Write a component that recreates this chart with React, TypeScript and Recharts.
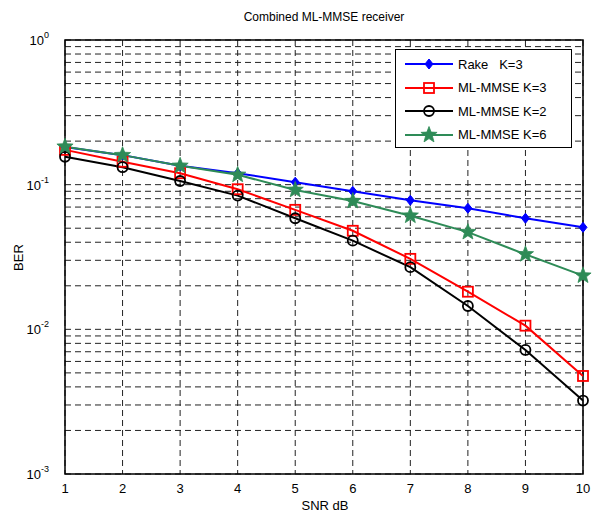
import React from "react";
import { CartesianGrid, Line, LineChart, ReferenceArea, XAxis, YAxis } from "recharts";

const snr = [1, 2, 3, 4, 5, 6, 7, 8, 9, 10];
const rakeK3 = [0.182, 0.16, 0.135, 0.12, 0.104, 0.09, 0.078, 0.0687, 0.0586, 0.0507];
const mlmmseK3 = [0.174, 0.144, 0.12, 0.093, 0.067, 0.048, 0.0307, 0.0182, 0.0106, 0.00476];
const mlmmseK2 = [0.156, 0.132, 0.106, 0.084, 0.0586, 0.041, 0.0269, 0.0145, 0.0072, 0.00322];
const mlmmseK6 = [0.183, 0.16, 0.135, 0.117, 0.092, 0.077, 0.061, 0.047, 0.033, 0.0235];

const decades = [0.001, 0.01, 0.1];
const yTicks = [...decades.flatMap((d) => [1, 2, 3, 4, 5, 6, 7, 8, 9].map((m) => Number((d * m).toPrecision(3)))), 1];

const FONT = '"Liberation Sans", Arial, sans-serif';

const data = snr.map((s, i) => ({
  snr: s,
  rake: rakeK3[i],
  k3: mlmmseK3[i],
  k2: mlmmseK2[i],
  k6: mlmmseK6[i],
}));

type MarkerKind = "diamond" | "square" | "circle" | "star";

function starPath(cx: number, cy: number, ro: number, ri: number): string {
  const pts: string[] = [];
  for (let i = 0; i < 10; i++) {
    const r = i % 2 === 0 ? ro : ri;
    const a = -Math.PI / 2 + (i * Math.PI) / 5;
    pts.push(`${cx + r * Math.cos(a)},${cy + r * Math.sin(a)}`);
  }
  return `M${pts.join("L")}Z`;
}

function Marker({ kind, cx, cy, color }: { kind: MarkerKind; cx: number; cy: number; color: string }) {
  if (kind === "diamond") {
    return <path d={`M${cx},${cy - 5}L${cx + 4},${cy}L${cx},${cy + 5}L${cx - 4},${cy}Z`} fill={color} stroke={color} strokeWidth={1} />;
  }
  if (kind === "square") {
    return <rect x={cx - 5} y={cy - 5} width={10} height={10} fill="none" stroke={color} strokeWidth={1.8} />;
  }
  if (kind === "circle") {
    return <circle cx={cx} cy={cy} r={5} fill="none" stroke={color} strokeWidth={1.8} />;
  }
  return <path d={starPath(cx, cy, 8.5, 3.6)} fill={color} stroke={color} strokeWidth={0.8} />;
}

const series = [
  { key: "rake", name: "Rake   K=3", color: "#0000ff", kind: "diamond" as MarkerKind },
  { key: "k3", name: "ML-MMSE K=3", color: "#ff0000", kind: "square" as MarkerKind },
  { key: "k2", name: "ML-MMSE K=2", color: "#000000", kind: "circle" as MarkerKind },
  { key: "k6", name: "ML-MMSE K=6", color: "#2e8b57", kind: "star" as MarkerKind },
];

function YTick(props: any) {
  const { x, y, payload } = props;
  const v = payload.value as number;
  const exp = Math.round(Math.log10(v));
  if (Math.abs(v - Math.pow(10, exp)) > 1e-9) return <g />;
  return (
    <text x={x - 8} y={y + 5} textAnchor="end" fontFamily={FONT} fontSize={13} fill="#000">
      10
      <tspan dy={-7} fontSize={9}>
        {exp}
      </tspan>
    </text>
  );
}

export default function App() {
  return (
    <div style={{ position: "absolute", left: 0, top: 0, width: 592, height: 517, background: "#fff", fontFamily: FONT }}>
      <div style={{ position: "absolute", left: 65, width: 518, top: 10, textAlign: "center", fontSize: 12 }}>
        Combined ML-MMSE receiver
      </div>
      <div style={{ position: "absolute", left: 325 - 40, width: 80, top: 498, textAlign: "center", fontSize: 13 }}>SNR dB</div>
      <div
        style={{
          position: "absolute",
          left: 18 - 20,
          width: 40,
          top: 250,
          textAlign: "center",
          fontSize: 13,
          transform: "rotate(-90deg)",
        }}
      >
        BER
      </div>
      <LineChart width={592} height={517} data={data} margin={{ top: 40, right: 9, bottom: 0, left: 0 }} style={{ position: "absolute", left: 0, top: 0 }}>
        <CartesianGrid stroke="#222" strokeDasharray="6 4" strokeWidth={1} />
        <XAxis
          dataKey="snr"
          type="number"
          domain={[1, 10]}
          ticks={snr}
          interval={0}
          axisLine={false}
          tickLine={false}
          tick={{ fill: "#000", fontSize: 13, fontFamily: FONT }}
          tickMargin={4}
          height={43}
        />
        <YAxis
          scale="log"
          domain={[0.001, 1]}
          allowDataOverflow
          ticks={yTicks}
          interval={0}
          axisLine={false}
          tickLine={false}
          tick={<YTick />}
          width={65}
        />
        <ReferenceArea x1={1} x2={10} y1={0.001} y2={1} fill="none" stroke="#000" strokeWidth={1.5} ifOverflow="visible" />
        {series.map((s) => (
          <Line
            key={s.key}
            dataKey={s.key}
            name={s.name}
            stroke={s.color}
            strokeWidth={2}
            type="linear"
            isAnimationActive={false}
            dot={(p: any) => <Marker key={`${s.key}-${p.index}`} kind={s.kind} cx={p.cx} cy={p.cy} color={s.color} />}
          />
        ))}
      </LineChart>
      <div
        style={{
          position: "absolute",
          left: 395,
          top: 49,
          width: 175,
          height: 97,
          border: "1px solid #000",
          background: "#fff",
          fontSize: 13,
        }}
      >
        {series.map((s, i) => (
          <div key={s.key} style={{ position: "absolute", left: 0, top: 4 + i * 23.5, height: 20, display: "flex", alignItems: "center" }}>
            <svg width={62} height={20} style={{ display: "block" }}>
              <line x1={9} y1={10} x2={57} y2={10} stroke={s.color} strokeWidth={2} />
              <Marker kind={s.kind} cx={33} cy={10} color={s.color} />
            </svg>
            <span style={{ whiteSpace: "pre" }}>{s.name}</span>
          </div>
        ))}
      </div>
    </div>
  );
}
